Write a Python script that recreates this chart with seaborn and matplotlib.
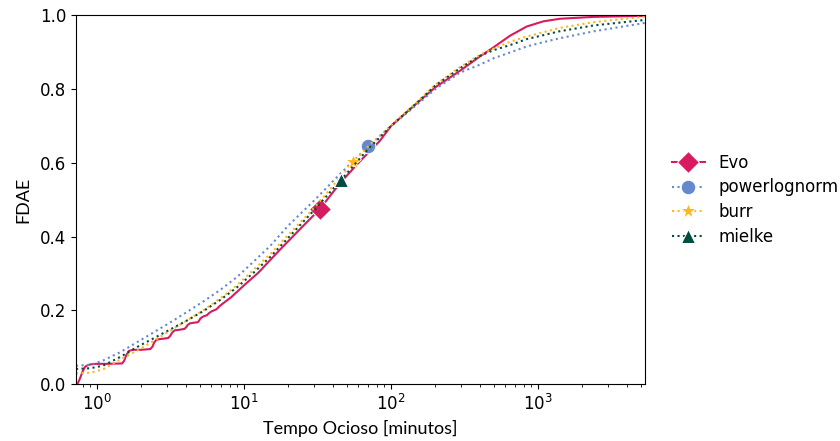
import matplotlib
matplotlib.use("Agg")

import numpy as np
import matplotlib.pyplot as plt
import seaborn as sns

# curva empírica (Evo)
evo_x = [0.735, 0.76, 0.80, 0.83, 0.87, 0.92, 1.0, 1.2, 1.48, 1.53, 1.58, 1.65, 1.75, 2.0,
         2.3, 2.38, 2.45, 2.55, 2.8, 3.05, 3.15, 3.25, 3.38, 3.6, 3.95, 4.05, 4.15, 4.3,
         4.85, 4.95, 5.05, 5.25, 5.6, 5.8, 6.0, 6.5, 6.8, 7.2, 8.2, 10, 12.5, 17.6, 24,
         32.8, 45, 60, 84, 100, 150, 200, 295, 403, 496, 645, 838, 1087, 1412, 2378, 5400]
evo_y = [0.0, 0.012, 0.035, 0.047, 0.052, 0.054, 0.055, 0.055, 0.056, 0.063, 0.078, 0.090,
         0.093, 0.093, 0.095, 0.101, 0.113, 0.121, 0.123, 0.125, 0.131, 0.140, 0.146, 0.147,
         0.150, 0.155, 0.161, 0.165, 0.168, 0.172, 0.178, 0.183, 0.187, 0.193, 0.197, 0.203,
         0.211, 0.219, 0.236, 0.268, 0.302, 0.365, 0.420, 0.475, 0.545, 0.600, 0.660, 0.700,
         0.762, 0.805, 0.850, 0.889, 0.913, 0.945, 0.970, 0.984, 0.991, 0.996, 0.999]
evo_mark = 32.8

# distribuições ajustadas
pln_x = [0.72, 0.9, 1.1, 1.43, 1.86, 2.42, 3.14, 4.07, 5.28, 6.87, 8.93, 11.6, 15, 20, 30,
         45, 70, 100, 150, 200, 295, 400, 500, 650, 840, 1100, 1400, 2400, 5400]
pln_y = [0.050, 0.052, 0.064, 0.086, 0.113, 0.140, 0.167, 0.195, 0.224, 0.255, 0.290, 0.332,
         0.374, 0.430, 0.498, 0.570, 0.645, 0.700, 0.758, 0.800, 0.845, 0.866, 0.884, 0.900,
         0.916, 0.928, 0.938, 0.957, 0.980]
pln_mark = 70

burr_x = [0.72, 0.9, 1.1, 1.43, 1.86, 2.42, 3.14, 4.07, 5.28, 6.87, 8.93, 11.6, 15, 20, 30,
          45, 55.4, 70, 100, 150, 200, 295, 400, 500, 650, 840, 1100, 1400, 2400, 5400]
burr_y = [0.029, 0.031, 0.040, 0.066, 0.090, 0.117, 0.145, 0.172, 0.200, 0.232, 0.268, 0.310,
          0.352, 0.405, 0.478, 0.560, 0.603, 0.645, 0.702, 0.765, 0.812, 0.860, 0.893, 0.910,
          0.929, 0.943, 0.955, 0.966, 0.982, 0.997]
burr_mark = 55.4

mielke_x = [0.72, 0.9, 1.1, 1.43, 1.86, 2.42, 3.14, 4.07, 5.28, 6.87, 8.93, 11.6, 15, 20, 30,
            45.5, 70, 100, 150, 200, 295, 400, 500, 650, 840, 1100, 1400, 2400, 5400]
mielke_y = [0.041, 0.043, 0.050, 0.073, 0.100, 0.124, 0.148, 0.172, 0.198, 0.228, 0.262,
            0.302, 0.344, 0.397, 0.472, 0.553, 0.638, 0.700, 0.763, 0.810, 0.857, 0.890,
            0.906, 0.920, 0.936, 0.947, 0.957, 0.973, 0.988]
mielke_mark = 45.5

series = [
    ("Evo",          evo_x,    evo_y,    evo_mark,    "#D81B60", "-", "D", 11),
    ("powerlognorm", pln_x,    pln_y,    pln_mark,    "#6688CC", ":", "o", 10.5),
    ("burr",         burr_x,   burr_y,   burr_mark,   "#FFB81C", ":", "*", 12),
    ("mielke",       mielke_x, mielke_y, mielke_mark, "#004D40", ":", "^", 10),
]

plt.rcParams["font.family"] = ["DejaVu Sans"]

fig, ax = plt.subplots(figsize=(8.4, 4.41), dpi=100)
fig.subplots_adjust(left=0.0905, right=0.768, top=0.965, bottom=0.129)

for name, xs, ys, mk, color, ls, marker, ms in series:
    sns.lineplot(x=xs, y=ys, ax=ax, sort=False, estimator=None, color=color,
                 linestyle=ls, linewidth=1.5, marker=marker, markersize=ms,
                 markevery=[xs.index(mk)], label=name, legend=False)

ax.set_xscale("log")
ax.set_xlim(0.72, 5350)
ax.set_ylim(0, 1)
ax.tick_params(labelsize=12)
ax.set_xlabel("Tempo Ocioso [minutos]", fontsize=13, family="Lato")
ax.set_ylabel("FDAE", fontsize=13, family="Lato", labelpad=6)

ax.legend(loc="center left", bbox_to_anchor=(1.02, 0.5), frameon=False, fontsize=12,
          labelspacing=0.4)

plt.savefig("out.png", dpi=100)
plt.close()
